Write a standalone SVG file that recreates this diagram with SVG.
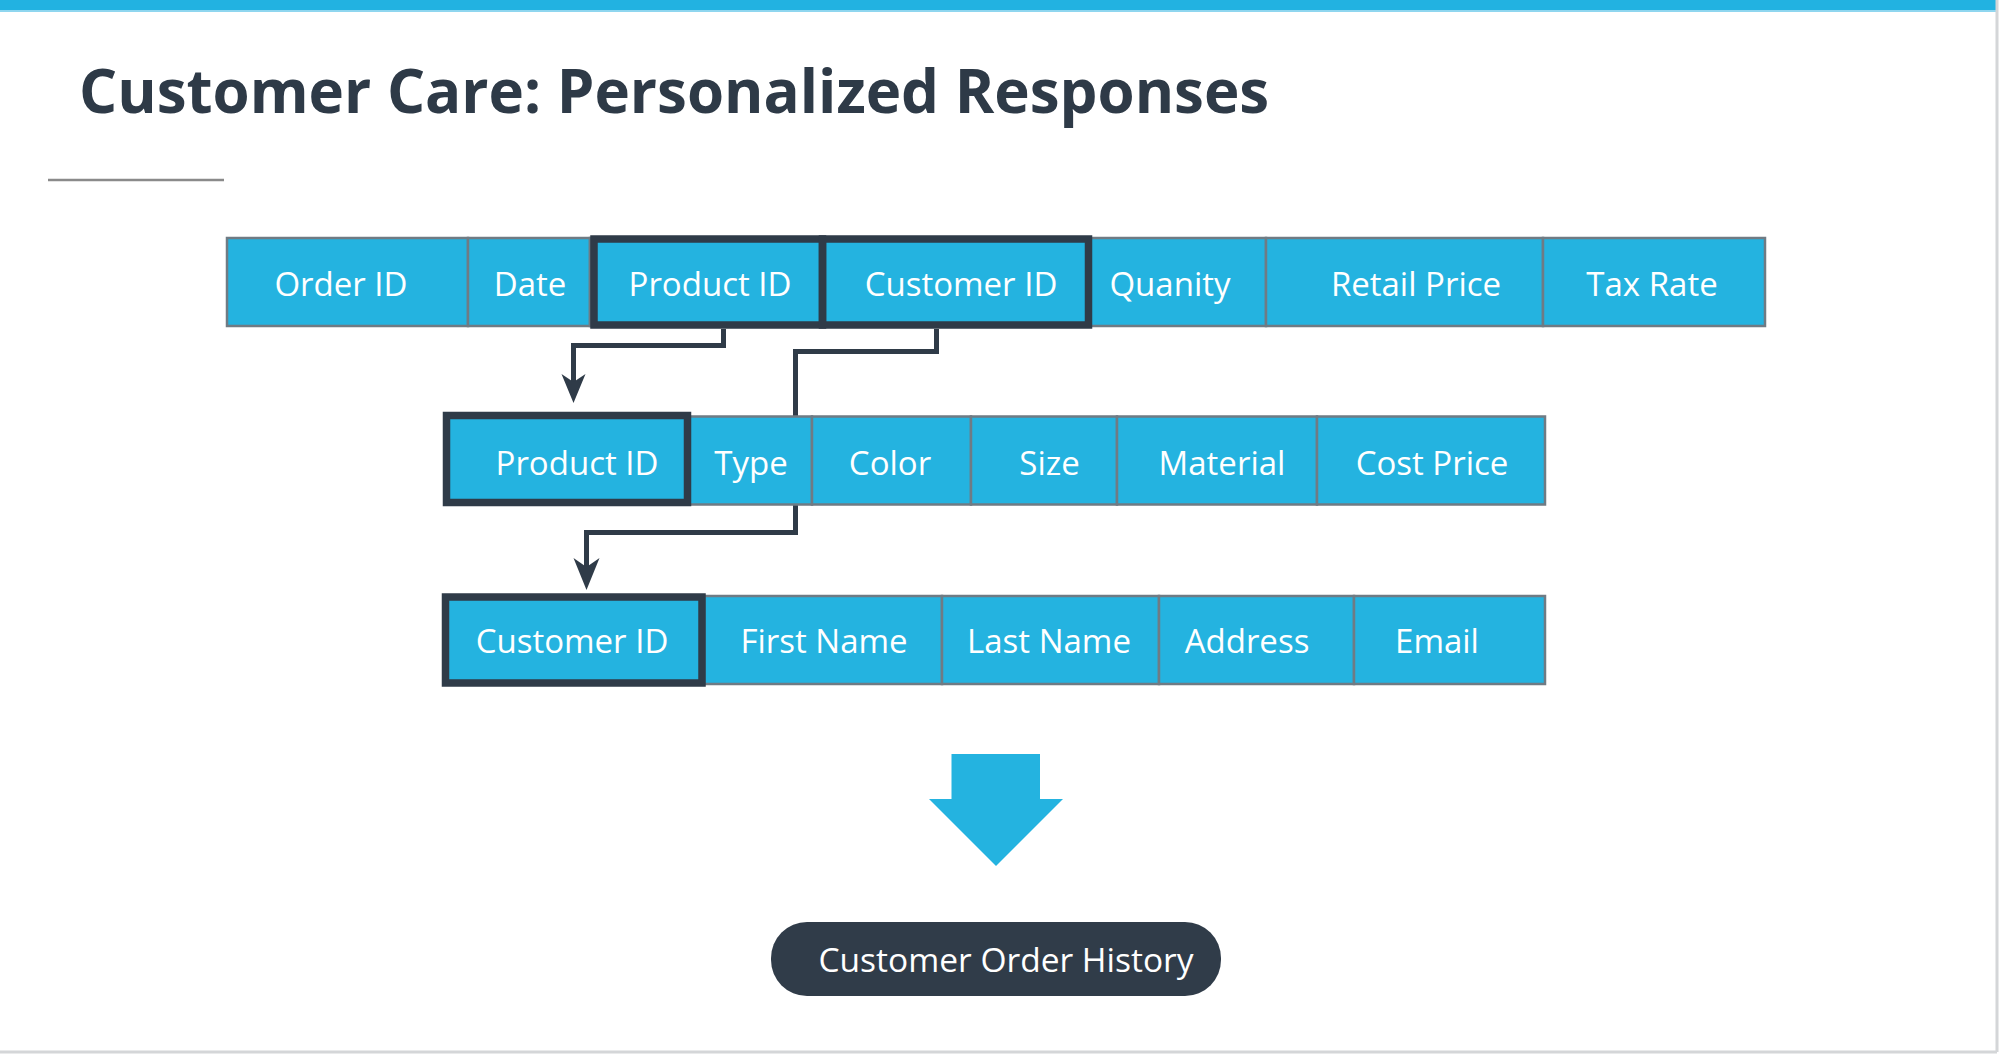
<svg xmlns="http://www.w3.org/2000/svg" width="1999" height="1054" viewBox="0 0 1999 1054">
<style>
.cell{fill:#24b3e0;stroke:#6f7b84;stroke-width:2.5}
.key{fill:none;stroke:#2f3b48;stroke-width:7.5}
.lbl{font-family:"Open Sans","Noto Sans","Liberation Sans",sans-serif;font-size:33px;fill:#ffffff;text-anchor:middle}
.conn{fill:none;stroke:#2f3b48;stroke-width:5}
.head{fill:#2f3b48}
</style>
<rect x="0" y="0" width="1999" height="1054" fill="#ffffff"/>
<rect x="0" y="0" width="1997" height="10" fill="#22b2e1"/>
<rect x="0" y="10" width="1997" height="2" fill="#8fd6ef"/>
<line x1="1997" y1="0" x2="1997" y2="1052" stroke="#d4d6d8" stroke-width="3"/>
<line x1="0" y1="1052" x2="1997" y2="1052" stroke="#d4d6d8" stroke-width="3"/>
<text x="79" y="113" font-family="'Open Sans','Noto Sans','Liberation Sans',sans-serif" font-weight="700" font-size="60" fill="#2e3a47">Customer Care: Personalized Responses</text>
<line x1="48" y1="180" x2="224" y2="180" stroke="#8a8a8a" stroke-width="2.5"/>

<g id="connectors">
  <path class="conn" d="M723.5,329 V345.5 H573.5 V382"/>
  <path class="head" d="M573.5,403 L561.5,374 L573.5,382 L585.5,374 Z"/>
  <path class="conn" d="M936.5,329 V351.5 H795.5 V532.5 H586.5 V568"/>
  <path class="head" d="M586.5,590 L573.5,558 L586.5,567 L599.5,558 Z"/>
</g>

<g id="orders">
  <g id="o-order-id"><rect class="cell" x="227" y="238" width="241" height="88"/><text class="lbl" x="341" y="296">Order ID</text></g>
  <g id="o-date"><rect class="cell" x="468" y="238" width="122" height="88"/><text class="lbl" x="530" y="296">Date</text></g>
  <g id="o-product-id"><rect class="cell" x="590" y="238" width="232" height="88"/><text class="lbl" x="710" y="296">Product ID</text></g>
  <g id="o-customer-id"><rect class="cell" x="822" y="238" width="268" height="88"/><text class="lbl" x="961" y="296">Customer ID</text></g>
  <g id="o-quanity"><rect class="cell" x="1090" y="238" width="176" height="88"/><text class="lbl" x="1170" y="296">Quanity</text></g>
  <g id="o-retail-price"><rect class="cell" x="1266" y="238" width="277" height="88"/><text class="lbl" x="1416" y="296">Retail Price</text></g>
  <g id="o-tax-rate"><rect class="cell" x="1543" y="238" width="222" height="88"/><text class="lbl" x="1652" y="296">Tax Rate</text></g>
  <rect class="key" x="594" y="239" width="228.5" height="86"/>
  <rect class="key" x="822.5" y="239" width="266" height="86"/>
</g>

<g id="products">
  <g id="p-product-id"><rect class="cell" x="445" y="416.5" width="243" height="88"/><text class="lbl" x="577" y="475">Product ID</text></g>
  <g id="p-type"><rect class="cell" x="688" y="416.5" width="124" height="88"/><text class="lbl" x="751" y="475">Type</text></g>
  <g id="p-color"><rect class="cell" x="812" y="416.5" width="159" height="88"/><text class="lbl" x="890" y="475">Color</text></g>
  <g id="p-size"><rect class="cell" x="971" y="416.5" width="146" height="88"/><text class="lbl" x="1049.5" y="475">Size</text></g>
  <g id="p-material"><rect class="cell" x="1117" y="416.5" width="200" height="88"/><text class="lbl" x="1222" y="475">Material</text></g>
  <g id="p-cost-price"><rect class="cell" x="1317" y="416.5" width="228" height="88"/><text class="lbl" x="1432" y="475">Cost Price</text></g>
  <rect class="key" x="446.5" y="415.5" width="241" height="87"/>
</g>

<g id="customers">
  <g id="c-customer-id"><rect class="cell" x="444" y="596" width="260" height="88"/><text class="lbl" x="572" y="653">Customer ID</text></g>
  <g id="c-first-name"><rect class="cell" x="704" y="596" width="238" height="88"/><text class="lbl" x="824" y="653">First Name</text></g>
  <g id="c-last-name"><rect class="cell" x="942" y="596" width="217" height="88"/><text class="lbl" x="1049" y="653">Last Name</text></g>
  <g id="c-address"><rect class="cell" x="1159" y="596" width="195" height="88"/><text class="lbl" x="1247" y="653">Address</text></g>
  <g id="c-email"><rect class="cell" x="1354" y="596" width="191" height="88"/><text class="lbl" x="1437" y="653">Email</text></g>
  <rect class="key" x="445.5" y="597" width="256.5" height="86"/>
</g>

<g id="result-arrow">
  <path d="M951.5,754 H1040 V799 H1063 L996,866 L929,799 H951.5 Z" fill="#24b3e0"/>
</g>

<g id="history">
  <rect x="771" y="922" width="450" height="74" rx="36" ry="36" fill="#303c49"/>
  <text x="1006" y="971.5" font-family="'Open Sans','Noto Sans','Liberation Sans',sans-serif" font-size="33.5" fill="#ffffff" text-anchor="middle">Customer Order History</text>
</g>
</svg>
